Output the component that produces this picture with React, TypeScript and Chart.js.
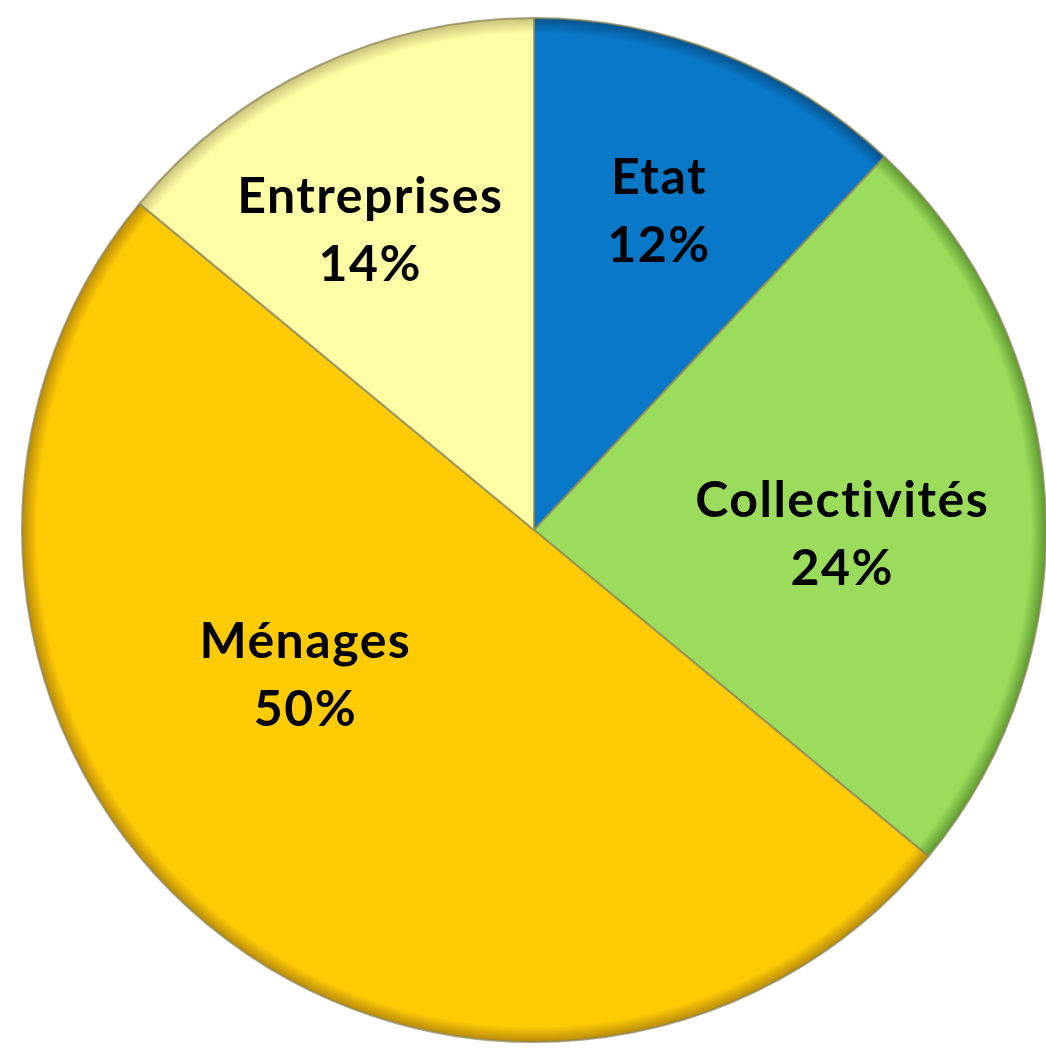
import React, { useEffect, useRef } from "react";
import { Chart, registerables } from "chart.js";

Chart.register(...registerables);

const categories = ["Etat", "Collectivités", "Ménages", "Entreprises"];
const values = [12, 24, 50, 14];
const percentLabels = ["12%", "24%", "50%", "14%"];
const baseColors = ["#0A78C8", "#9CDC5C", "#FFCB05", "#FFFDA5"];
const rimColors = ["#05528C", "#5E9A30", "#B88A0A", "#C8C27A"];

// label placement: [radius fraction, angle adjustment in degrees]
const labelPlacement: [number, number][] = [
  [0.67, -0.4],
  [0.6, 4.3],
  [0.53, 18.2],
  [0.67, -3.5],
];

const labelPlugin = {
  id: "pieLabels",
  afterDatasetsDraw(chart: any) {
    const meta = chart.getDatasetMeta(0);
    const ctx = chart.ctx;
    ctx.save();
    ctx.fillStyle = "#000000";
    ctx.font = "bold 50px Lato";
    ctx.textAlign = "center";
    ctx.textBaseline = "alphabetic";
    try {
      (ctx as any).letterSpacing = "1.5px";
    } catch (e) {}
    meta.data.forEach((arc: any, i: number) => {
      const p = arc.getProps(["x", "y", "startAngle", "endAngle", "outerRadius"], true);
      const mid = (p.startAngle + p.endAngle) / 2 + (labelPlacement[i][1] * Math.PI) / 180;
      const d = p.outerRadius * labelPlacement[i][0];
      const cx = p.x + Math.cos(mid) * d + 1;
      const cy = p.y + Math.sin(mid) * d;
      ctx.fillText(categories[i], cx, cy - 16.5);
      ctx.fillText(percentLabels[i], cx, cy + 51.5);
    });
    ctx.restore();
  },
};

export default function App() {
  const canvasRef = useRef<HTMLCanvasElement | null>(null);

  useEffect(() => {
    if (!canvasRef.current) return;
    const R = 512;
    const chart = new Chart(canvasRef.current, {
      type: "pie",
      data: {
        labels: categories,
        datasets: [
          {
            data: values,
            backgroundColor: (c: any) => {
              const i = c.dataIndex;
              const area = c.chart.chartArea;
              if (!area || i === undefined) return baseColors[i ?? 0];
              const cx = (area.left + area.right) / 2;
              const cy = (area.top + area.bottom) / 2;
              const g = c.chart.ctx.createRadialGradient(cx, cy, 0, cx, cy, R);
              g.addColorStop(0, baseColors[i]);
              g.addColorStop(0.93, baseColors[i]);
              g.addColorStop(0.97, baseColors[i]);
              g.addColorStop(1, rimColors[i]);
              return g;
            },
            borderColor: "rgba(140,135,90,0.75)",
            borderWidth: 2,
          },
        ],
      },
      options: {
        animation: false,
        responsive: true,
        maintainAspectRatio: false,
        radius: R,
        layout: { padding: { left: 22, right: 0, top: 18, bottom: 6 } },
        plugins: {
          legend: { display: false },
          tooltip: { enabled: false },
        },
      } as any,
      plugins: [labelPlugin],
    });
    return () => chart.destroy();
  }, []);

  return (
    <div style={{ position: "fixed", left: 0, top: 0, width: 1046, height: 1048, background: "#ffffff" }}>
      <canvas ref={canvasRef} />
    </div>
  );
}
